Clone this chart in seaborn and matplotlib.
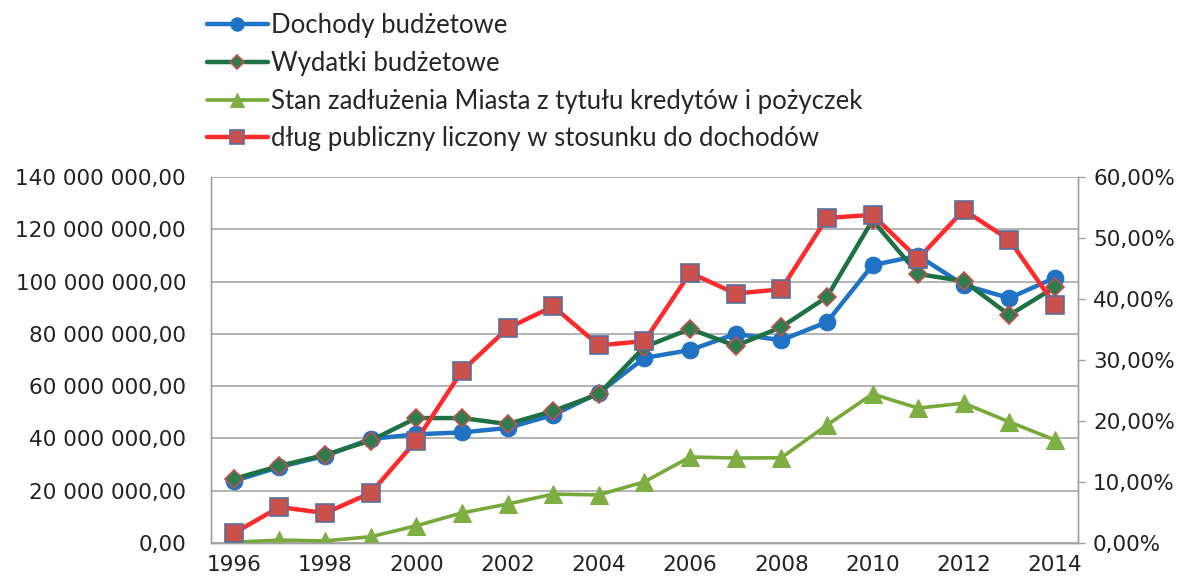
import numpy as np
import pandas as pd
import matplotlib
matplotlib.use("Agg")
import matplotlib.pyplot as plt
import seaborn as sns
from matplotlib.ticker import FuncFormatter, MultipleLocator

# ===============================
# DATA
# ===============================
years = list(range(1996, 2015))

dochody = [23.7, 29.1, 33.3, 39.8, 41.6, 42.3, 44.0, 49.0, 57.4, 70.8,
           73.8, 80.0, 77.6, 84.5, 106.3, 109.9, 98.7, 93.7, 101.5]
wydatki = [24.5, 29.5, 33.7, 39.2, 47.8, 47.8, 45.5, 50.5, 57.0, 75.0,
           81.9, 75.4, 82.6, 94.1, 123.5, 102.9, 100.2, 87.2, 97.9]
zadluzenie = [0.3, 1.1, 0.8, 2.4, 6.6, 11.5, 14.9, 18.7, 18.4, 23.4,
              32.9, 32.5, 32.6, 45.1, 57.0, 51.6, 53.5, 46.3, 39.4]
dlug_pct = [1.6, 5.9, 4.9, 8.2, 16.8, 28.2, 35.2, 38.8, 32.4, 33.1,
            44.3, 40.9, 41.6, 53.3, 53.8, 46.6, 54.6, 49.7, 39.0]

labels = ["Dochody budżetowe",
          "Wydatki budżetowe",
          "Stan zadłużenia Miasta z tytułu kredytów i pożyczek",
          "dług publiczny liczony w stosunku do dochodów"]

df = pd.DataFrame({
    "rok": years,
    "dochody": np.array(dochody) * 1e6,
    "wydatki": np.array(wydatki) * 1e6,
    "zadluzenie": np.array(zadluzenie) * 1e6,
    "dlug": np.array(dlug_pct) / 100.0,
})

# ===============================
# STYLE
# ===============================
sns.set_style("white")
plt.rcParams["font.family"] = ["DejaVu Sans"]

blue = "#1F72C4"
dgreen = "#1E7145"
lgreen = "#77A83A"
red = "#FF2A2A"

fig = plt.figure(figsize=(11.89, 5.79), dpi=100)
ax = fig.add_axes([0.1775, 0.0622, 0.729, 0.632])
ax2 = ax.twinx()

# ===============================
# LINES
# ===============================
sns.lineplot(data=df, x="rok", y="dochody", ax=ax, color=blue, lw=3.2,
             marker="o", markersize=12, markerfacecolor=blue,
             markeredgecolor=blue, label=labels[0], legend=False, zorder=3)
sns.lineplot(data=df, x="rok", y="wydatki", ax=ax, color=dgreen, lw=3.2,
             marker="D", markersize=9, markerfacecolor="#2E7D4F",
             markeredgecolor="#C0504D", markeredgewidth=1.2,
             label=labels[1], legend=False, zorder=4)
sns.lineplot(data=df, x="rok", y="zadluzenie", ax=ax, color=lgreen, lw=2.6,
             marker="^", markersize=13, markerfacecolor="#7FAE44",
             markeredgecolor="#7FAE44", label=labels[2], legend=False, zorder=3)
sns.lineplot(data=df, x="rok", y="dlug", ax=ax2, color=red, lw=3.2,
             marker="s", markersize=13, markerfacecolor="#C9504B",
             markeredgecolor="#5A6FA0", markeredgewidth=1.2,
             label=labels[3], legend=False, zorder=5)

# ===============================
# AXES
# ===============================
ax.set_xlim(1995.5, 2014.5)
ax.set_ylim(0, 140e6)
ax2.set_ylim(0, 0.60)
ax.xaxis.set_major_locator(MultipleLocator(2))
ax.yaxis.set_major_locator(MultipleLocator(20e6))
ax2.yaxis.set_major_locator(MultipleLocator(0.10))

ax.yaxis.set_major_formatter(FuncFormatter(
    lambda v, p: f"{v:,.2f}".replace(",", " ").replace(".", ",")))
ax2.yaxis.set_major_formatter(FuncFormatter(
    lambda v, p: f"{v * 100:.2f}%".replace(".", ",")))

ax.set_xlabel("")
ax.set_ylabel("")
ax2.set_ylabel("")

ax.grid(axis="y", color="#A8A8A8", lw=1.2)
ax.grid(axis="x", visible=False)
ax2.grid(False)

for a in (ax, ax2):
    a.spines["top"].set_visible(False)
    for s in ("left", "right", "bottom"):
        a.spines[s].set_color("#A0A0A0")
        a.spines[s].set_linewidth(1.0)

ax.tick_params(axis="y", labelsize=15.5, length=0, pad=18, colors="#222222")
ax.tick_params(axis="x", labelsize=15.5, length=0, pad=9, colors="#222222")
ax2.tick_params(axis="y", labelsize=15.5, length=5, width=1, pad=6,
                direction="out", color="#A0A0A0", labelcolor="#222222")

# ===============================
# LEGEND (above plot, left)
# ===============================
h1, l1 = ax.get_legend_handles_labels()
h2, l2 = ax2.get_legend_handles_labels()
fig.legend(h1 + h2, l1 + l2, loc="upper left", bbox_to_anchor=(0.163, 1.0),
           frameon=False, prop={"family": "Lato", "size": 18.5},
           handlelength=2.4, handletextpad=0.12, labelspacing=0.5,
           borderaxespad=0.1, markerscale=0.8)

fig.savefig("out.png", dpi=100)
